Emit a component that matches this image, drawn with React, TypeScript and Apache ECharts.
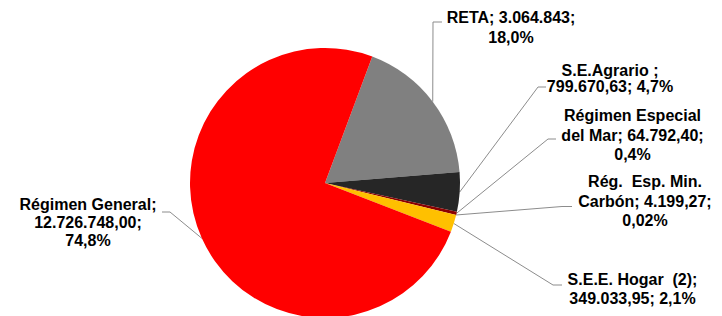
import React, { useEffect, useRef } from "react";
import * as echarts from "echarts";

// ---- data ----
const categories = [
  "RETA",
  "S.E.Agrario ",
  "Régimen Especial\ndel Mar",
  "Rég.  Esp. Min.\nCarbón",
  "S.E.E. Hogar  (2)",
  "Régimen General",
];
const values = [3064843, 799670.63, 64792.4, 4199.27, 349033.95, 12726748.0];
const valueDecimals = [0, 2, 2, 2, 2, 2];
const pctDecimals = [1, 1, 1, 2, 1, 1];
// label text templates ({n} name, {v} value, {p} percentage)
const labelTemplates = [
  "{n}; {v};\n{p}",
  "{n};\n{v}; {p}",
  "{n}; {v};\n{p}",
  "{n}; {v};\n{p}",
  "{n};\n{v}; {p}",
  "{n};\n{v};\n{p}",
];
const colors = ["#808080", "#262626", "#8B0000", "#C00000", "#FFC000", "#FF0000"];

// ---- layout (label positions and leader elbows) ----
const labelLayouts = [
  { x: 511, y: 27.5, lh: 19.5, pts: [[433, 22], [442, 22]] },
  { x: 610, y: 78.5, lh: 16, pts: [[538, 87], [546, 87]] },
  { x: 632.5, y: 135, lh: 19.2, pts: [[548, 139], [556, 139]] },
  { x: 645, y: 201, lh: 19.5, pts: [[562, 206.5], [572, 206.5]] },
  { x: 632.5, y: 289, lh: 19, pts: [[553, 285], [562, 285]] },
  { x: 88, y: 222.5, lh: 18, pts: [[170, 212], [162, 212]] },
];

function fmtNum(v: number, dec: number): string {
  const fixed = v.toFixed(dec);
  const [intPart, decPart] = fixed.split(".");
  const withDots = intPart.replace(/\B(?=(\d{3})+(?!\d))/g, ".");
  return decPart ? withDots + "," + decPart : withDots;
}

export default function App() {
  const ref = useRef<HTMLDivElement>(null);
  useEffect(() => {
    if (!ref.current) return;
    const chart = echarts.init(ref.current, null, { renderer: "svg" });
    const total = values.reduce((a, b) => a + b, 0);
    const data = values.map((v, i) => ({
      value: v,
      name: categories[i],
      itemStyle: { color: colors[i] },
      label: { lineHeight: labelLayouts[i].lh },
    }));
    chart.setOption({
      animation: false,
      backgroundColor: "#ffffff",
      series: [
        {
          type: "pie",
          center: [325, 183],
          radius: 135,
          startAngle: 69.5,
          clockwise: true,
          avoidLabelOverlap: false,
          itemStyle: { borderWidth: 0 },
          label: {
            show: true,
            position: "outside",
            color: "#000000",
            fontFamily: "Arial, 'Liberation Sans', sans-serif",
            fontWeight: "bold",
            fontSize: 16,
            align: "center",
            formatter: (p: any) => {
              const i = p.dataIndex;
              const v = values[i];
              const pct = ((v / total) * 100).toFixed(pctDecimals[i]).replace(".", ",") + "%";
              return labelTemplates[i]
                .replace("{n}", categories[i])
                .replace("{v}", fmtNum(v, valueDecimals[i]))
                .replace("{p}", pct);
            },
          },
          labelLine: {
            show: true,
            length: 10,
            length2: 10,
            smooth: false,
            lineStyle: { color: "#8c8c8c", width: 1 },
          },
          labelLayout: (params: any) => {
            const L = labelLayouts[params.dataIndex];
            const p0 =
              params.labelLinePoints && params.labelLinePoints[0]
                ? params.labelLinePoints[0]
                : L.pts[0];
            return {
              x: L.x,
              y: L.y,
              align: "center",
              verticalAlign: "middle",
              labelLinePoints: [p0, L.pts[0], L.pts[1]],
            };
          },
          data,
        },
      ],
    });
    return () => chart.dispose();
  }, []);
  return (
    <div
      ref={ref}
      style={{ position: "fixed", left: 0, top: 0, width: 722, height: 316 }}
    />
  );
}
